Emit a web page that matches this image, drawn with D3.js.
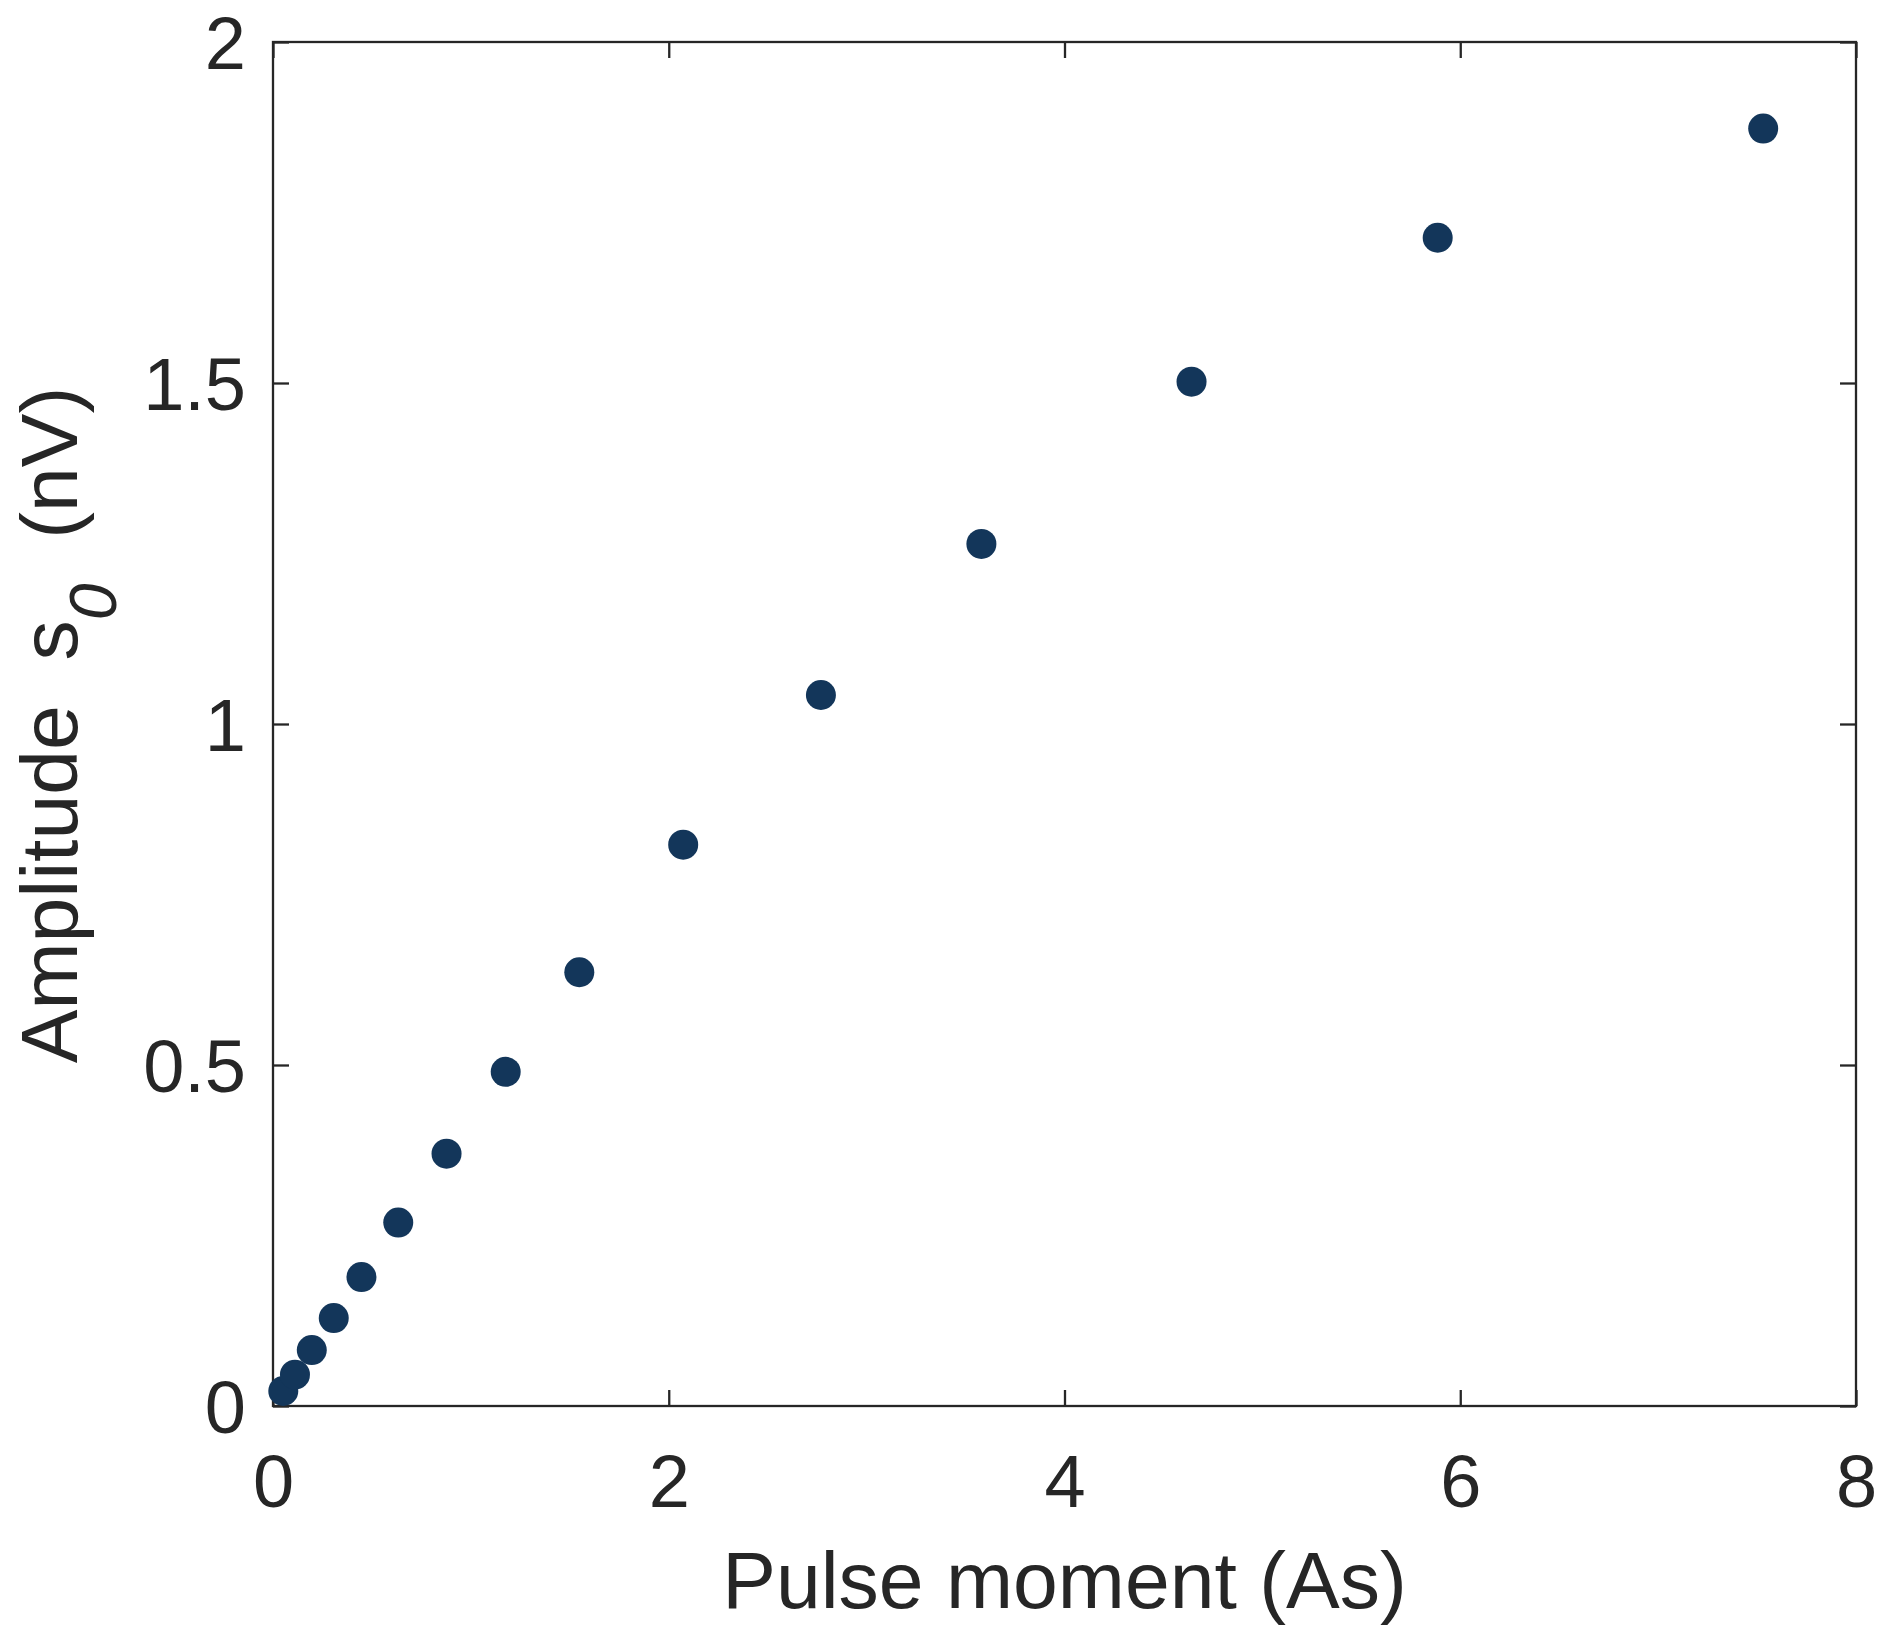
<!DOCTYPE html>
<html>
<head>
<meta charset="utf-8">
<script src="https://cdn.jsdelivr.net/npm/d3@7"></script>
<style>
html,body{margin:0;padding:0;background:#fff;}
svg{display:block;}
text{font-family:"Liberation Sans",Arial,sans-serif;fill:#262626;}
</style>
</head>
<body>
<svg id="chart" width="1892" height="1645"></svg>
<script>
// Data
const pulseMoment = [0.052, 0.111, 0.196, 0.307, 0.447, 0.633, 0.877, 1.176, 1.548, 2.073, 2.769, 3.580, 4.642, 5.886, 7.531];
const amplitude   = [0.022, 0.046, 0.082, 0.129, 0.189, 0.269, 0.370, 0.490, 0.636, 0.823, 1.0425, 1.264, 1.502, 1.713, 1.873];
const xTicks = [0, 2, 4, 6, 8];
const yTicks = [0, 0.5, 1, 1.5, 2];
const xTickLabels = ["0", "2", "4", "6", "8"];
const yTickLabels = ["0", "0.5", "1", "1.5", "2"];

const svg = d3.select("#chart");
const L = 273, R = 1856, T = 42, B = 1406;
const x = d3.scaleLinear().domain([0, 8]).range([L, R]);
const y = d3.scaleLinear().domain([0, 2]).range([B, T]);
const axisColor = "#262626";
const tickLen = 16;

// Frame
svg.append("rect").attr("x", L).attr("y", T).attr("width", R - L).attr("height", B - T)
  .attr("fill", "none").attr("stroke", axisColor).attr("stroke-width", 2.3);

// Axes with inward ticks
const fmtX = (d, i) => xTickLabels[i];
const fmtY = (d, i) => yTickLabels[i];
const gB = svg.append("g").attr("transform", `translate(0,${B})`)
  .call(d3.axisBottom(x).tickValues(xTicks).tickSize(-tickLen).tickPadding(0).tickFormat(fmtX));
const gT = svg.append("g").attr("transform", `translate(0,${T})`)
  .call(d3.axisTop(x).tickValues(xTicks).tickSize(-tickLen).tickFormat(""));
const gL = svg.append("g").attr("transform", `translate(${L},0)`)
  .call(d3.axisLeft(y).tickValues(yTicks).tickSize(-tickLen).tickFormat(fmtY));
const gR = svg.append("g").attr("transform", `translate(${R},0)`)
  .call(d3.axisRight(y).tickValues(yTicks).tickSize(-tickLen).tickFormat(""));
[gB, gT, gL, gR].forEach(g => {
  g.select(".domain").remove();
  g.selectAll(".tick line").attr("stroke", axisColor).attr("stroke-width", 2.3);
});
gB.selectAll(".tick text").attr("y", 101).attr("dy", 0)
  .style("font-size", "74px").attr("fill", axisColor);
gL.selectAll(".tick text").attr("x", -27).attr("dy", "0.36em")
  .style("font-size", "74px").attr("fill", axisColor);

// Points
svg.append("g").selectAll("circle").data(pulseMoment).join("circle")
  .attr("cx", (d) => x(d))
  .attr("cy", (d, i) => y(amplitude[i]))
  .attr("r", 15)
  .attr("fill", "#13365a");

// X title
svg.append("text").attr("x", (L + R) / 2).attr("y", 1608)
  .attr("text-anchor", "middle").style("font-size", "80.5px")
  .text("Pulse moment (As)");

// Y title
const yt = svg.append("text")
  .attr("transform", `translate(77,${(T + B) / 2 + 1}) rotate(-90)`)
  .attr("text-anchor", "middle").style("font-size", "80.5px");
yt.append("tspan").text("Amplitude\u00a0\u00a0s");
yt.append("tspan").attr("dy", 39).style("font-size", "66px").style("font-style", "italic").text("0");
yt.append("tspan").attr("dy", -39).text("\u00a0\u00a0(nV)");
</script>
</body>
</html>
